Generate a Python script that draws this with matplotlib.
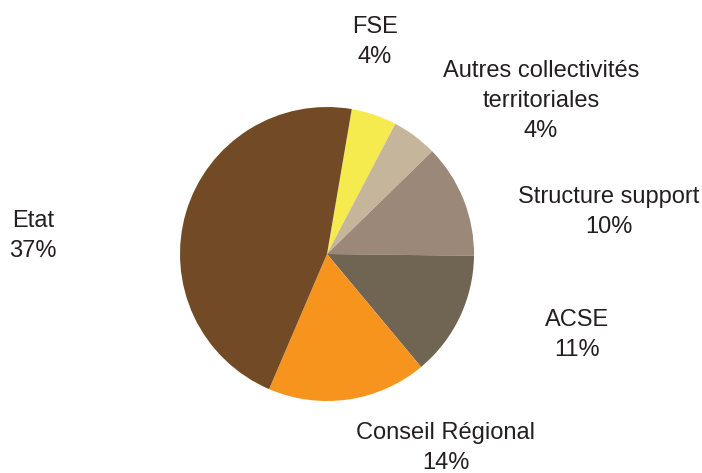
import matplotlib
matplotlib.use("Agg")
import matplotlib.pyplot as plt

categories = ["FSE", "Autres collectivités\nterritoriales", "Structure support", "ACSE", "Conseil Régional", "Etat"]
values = [4, 4, 10, 11, 14, 37]
pct_labels = ["4%", "4%", "10%", "11%", "14%", "37%"]
colors = ["#F5EB4F", "#C4B59B", "#9C8878", "#706453", "#F7941E", "#734A26"]

W, H = 702, 473
fig = plt.figure(figsize=(W / 100, H / 100), dpi=100)
ax = fig.add_axes([0, 0, 1, 1])

cx, cy, r = 327, H - 254, 147
ax.pie(values, colors=colors, startangle=80.3, counterclock=False,
       center=(cx, cy), radius=r, wedgeprops=dict(linewidth=0), frame=True)
ax.set_xlim(0, W)
ax.set_ylim(0, H)
ax.set_aspect("equal")
ax.axis("off")

label_pos = [(375, 42), (541, 101), (609, 212), (577, 335), (446, 448), (33, 236)]
for cat, pct, (x, y) in zip(categories, pct_labels, label_pos):
    ax.text(x, H - y, f"{cat}\n{pct}", ha="center", va="center", multialignment="center",
            fontsize=17, family=["Liberation Sans", "DejaVu Sans"], color="#231F20",
            linespacing=1.47)

fig.savefig("out.png", dpi=100)
